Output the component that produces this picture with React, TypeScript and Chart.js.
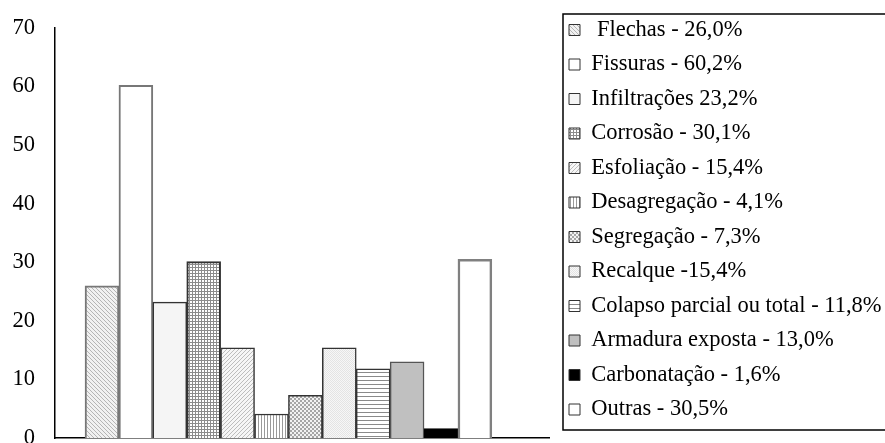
import React, { useEffect, useRef } from 'react';
import { Chart, registerables } from 'chart.js';

Chart.register(...registerables);

// ---- data ----
const categories = [
  'Flechas',
  'Fissuras',
  'Infiltrações',
  'Corrosão',
  'Esfoliação',
  'Desagregação',
  'Segregação',
  'Recalque',
  'Colapso parcial ou total',
  'Armadura exposta',
  'Carbonatação',
  'Outras',
];
const values = [26.0, 60.2, 23.2, 30.1, 15.4, 4.1, 7.3, 15.4, 11.8, 13.0, 1.6, 30.5];
const legendLabels = [
  ' Flechas - 26,0%',
  'Fissuras - 60,2%',
  'Infiltrações 23,2%',
  'Corrosão - 30,1%',
  'Esfoliação - 15,4%',
  'Desagregação - 4,1%',
  'Segregação - 7,3%',
  'Recalque -15,4%',
  'Colapso parcial ou total - 11,8%',
  'Armadura exposta - 13,0%',
  'Carbonatação - 1,6%',
  'Outras - 30,5%',
];
const yMin = 0;
const yMax = 70;
const yStep = 10;

const FONT = "'Liberation Serif', 'Times New Roman', serif";
const FONT_SIZE = 22.5;

function makePattern(w: number, h: number, bg: string, draw: (g: CanvasRenderingContext2D) => void) {
  const c = document.createElement('canvas');
  c.width = w;
  c.height = h;
  const g = c.getContext('2d')!;
  g.fillStyle = bg;
  g.fillRect(0, 0, w, h);
  draw(g);
  return g.createPattern(c, 'repeat')!;
}

function buildFills() {
  const flechas = makePattern(4, 4, '#f1f1f1', (g) => {
    g.fillStyle = '#b5b5b5';
    for (let i = 0; i < 4; i++) g.fillRect(i, i, 1, 1);
  });
  const corrosao = makePattern(3, 3, '#ffffff', (g) => {
    g.fillStyle = '#8c8c8c';
    g.fillRect(0, 0, 3, 1);
    g.fillRect(0, 0, 1, 3);
  });
  const esfoliacao = makePattern(4, 4, '#f6f6f6', (g) => {
    g.fillStyle = '#bdbdbd';
    for (let i = 0; i < 4; i++) g.fillRect(3 - i, i, 1, 1);
  });
  const desagregacao = makePattern(3, 1, '#ffffff', (g) => {
    g.fillStyle = '#9a9a9a';
    g.fillRect(0, 0, 1, 1);
  });
  const segregacao = makePattern(4, 4, '#f2f2f2', (g) => {
    g.fillStyle = '#a6a6a6';
    g.fillRect(0, 0, 2, 2);
    g.fillRect(2, 2, 2, 2);
  });
  const recalque = makePattern(2, 2, '#f7f7f7', (g) => {
    g.fillStyle = '#e4e4e4';
    g.fillRect(0, 0, 1, 1);
    g.fillRect(1, 1, 1, 1);
  });
  const colapso = makePattern(1, 4, '#ffffff', (g) => {
    g.fillStyle = '#8a8a8a';
    g.fillRect(0, 0, 1, 1);
  });
  return [
    flechas,
    '#ffffff',
    '#f5f5f5',
    corrosao,
    esfoliacao,
    desagregacao,
    segregacao,
    recalque,
    colapso,
    '#c0c0c0',
    '#000000',
    '#ffffff',
  ];
}

const borderColors = ['#777', '#777', '#333', '#333', '#333', '#333', '#333', '#333', '#333', '#555', '#000', '#808080'];
const borderWidths = [2, 2, 1.5, 2, 1.5, 1.5, 1.5, 1.5, 1.5, 1.5, 1, 2.5];

const legendBorder = {
  id: 'legendBorder',
  afterDraw(chart: any) {
    const l = chart.legend;
    if (!l) return;
    const ctx = chart.ctx;
    ctx.save();
    ctx.strokeStyle = '#000';
    ctx.lineWidth = 1.5;
    ctx.strokeRect(l.left + 6, 14, 400, 416);
    ctx.restore();
  },
};

export default function App() {
  const ref = useRef<HTMLCanvasElement | null>(null);

  useEffect(() => {
    if (!ref.current) return;
    const fills = buildFills();
    const chart = new Chart(ref.current, {
      type: 'bar',
      data: {
        datasets: [
          {
            label: 'Patologias',
            data: values.map((v, i) => ({ x: i + 1, y: v })),
            backgroundColor: fills as any,
            borderColor: borderColors,
            borderWidth: borderWidths,
            categoryPercentage: 1,
            barPercentage: 1,
          } as any,
        ],
      },
      options: {
        responsive: false,
        animation: false,
        devicePixelRatio: 1,
        layout: { padding: { top: 6.75, left: 0, right: 0, bottom: 0 } },
        scales: {
          x: {
            type: 'linear',
            min: -0.386,
            max: 14.186,
            offset: false,
            grid: { display: false, drawTicks: false },
            ticks: { display: false },
            border: { display: true, color: '#000', width: 1.5 },
            afterFit: (s: any) => {
              s.height = 5;
              s.paddingLeft = 0;
              s.paddingRight = 0;
            },
          },
          y: {
            type: 'linear',
            min: yMin,
            max: yMax,
            grid: { display: false, drawTicks: false },
            ticks: {
              stepSize: yStep,
              padding: 20,
              color: '#000',
              font: { family: FONT, size: FONT_SIZE },
            },
            border: { display: true, color: '#000', width: 1.5 },
            afterFit: (s: any) => {
              s.width = 55;
              s.paddingTop = 28;
              s.paddingBottom = 0;
            },
          },
          pad: {
            type: 'linear',
            position: 'right',
            display: true,
            grid: { display: false, drawTicks: false },
            ticks: { display: false },
            border: { display: false },
            afterFit: (s: any) => {
              s.width = 8;
              s.paddingTop = 0;
              s.paddingBottom = 0;
            },
          },
        } as any,
        plugins: {
          tooltip: { enabled: false },
          legend: {
            display: true,
            position: 'right',
            align: 'start',
            maxWidth: 328,
            labels: {
              boxWidth: 11,
              boxHeight: 11,
              padding: 12,
              color: '#000',
              font: { family: FONT, size: FONT_SIZE },
              generateLabels: () =>
                categories.map((_, i) => ({
                  text: legendLabels[i],
                  fillStyle: fills[i] as any,
                  strokeStyle: '#333',
                  fontColor: '#000',
                  lineWidth: 1,
                  hidden: false,
                  index: i,
                  datasetIndex: 0,
                })),
            },
          },
        },
      },
      plugins: [legendBorder],
    });
    return () => chart.destroy();
  }, []);

  return (
    <div style={{ position: 'fixed', left: 0, top: 0, width: 885, height: 443, background: '#fff' }}>
      <canvas ref={ref} width={885} height={443} style={{ display: 'block' }} />
    </div>
  );
}
